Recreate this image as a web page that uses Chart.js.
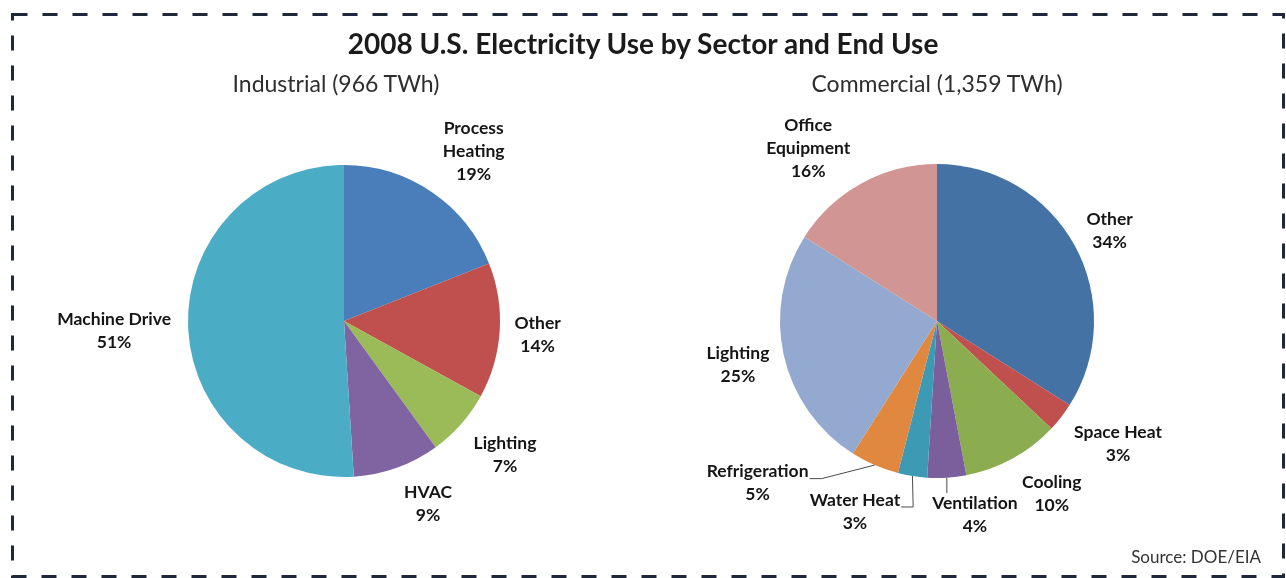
<!DOCTYPE html>
<html>
<head>
<meta charset="utf-8">
<script src="https://cdn.jsdelivr.net/npm/chart.js@4.4.1/dist/chart.umd.min.js"></script>
<style>
  html, body { margin: 0; padding: 0; background: #fff; }
  #wrap { position: relative; width: 1286px; height: 578px; overflow: hidden; font-family: Lato, 'Open Sans', sans-serif; }
  .pie { position: absolute; top: 0; width: 643px; height: 578px; }
  #indBox { left: 0; }
  #comBox { left: 643px; }
  .txt { position: absolute; white-space: nowrap; color: #1b1b1b; }
  #title { left: 0; width: 1286px; top: 26px; text-align: center; font-weight: 700; font-size: 28px; }
  .sub { top: 69px; font-size: 23px; color: #2e2e2e; text-align: center; width: 400px; }
  #subInd { left: 136px; }
  #subCom { left: 737px; }
  #source { right: 25px; top: 546px; font-size: 17px; color: #333; }
  #frame { position: absolute; left: 0; top: 0; pointer-events: none; }
</style>
</head>
<body>
<div id="wrap">
  <div class="pie" id="indBox"><canvas id="industrialChart"></canvas></div>
  <div class="pie" id="comBox"><canvas id="commercialChart"></canvas></div>
  <div class="txt" id="title">2008 U.S. Electricity Use by Sector and End Use</div>
  <div class="txt sub" id="subInd">Industrial (966 TWh)</div>
  <div class="txt sub" id="subCom">Commercial (1,359 TWh)</div>
  <div class="txt" id="source">Source: DOE/EIA</div>
  <svg id="frame" width="1286" height="578">
    <rect x="12.5" y="14.5" width="1271" height="562" fill="none" stroke="#1e2838" stroke-width="3" stroke-dasharray="15 15"/>
  </svg>
</div>
<script>
// Industrial sector, share of electricity by end use (%)
const industrialLabels = ['Process\nHeating', 'Other', 'Lighting', 'HVAC', 'Machine Drive'];
const industrialValues = [19, 14, 7, 9, 51];
const industrialColors = ['#4a7ebb', '#c0504d', '#9bbb59', '#8064a2', '#4bacc6'];

// Commercial sector, share of electricity by end use (%)
const commercialLabels = ['Other', 'Space Heat', 'Cooling', 'Ventilation', 'Water Heat', 'Refrigeration', 'Lighting', 'Office\nEquipment'];
const commercialValues = [34, 3, 10, 4, 3, 5, 25, 16];
const commercialColors = ['#4472a4', '#c0504d', '#8bad4f', '#7b5e9c', '#3d9ab4', '#e0883f', '#93a9cf', '#d19593'];

// label placement tweaks (px) from the default radial spot
const industrialNudge = [[15, -1], [-10, 1], [8, -1], [15, -9], [-26, 3]];
const commercialNudge = [[-7, 9], [19, -3], [16, -7], [25, -11], [-50, -12], [-98, -26], [1, -1], [-30, 7]];
const commercialLeaders = [false, false, false, true, true, true, false, false];

const LABEL_FONT = 'bold 17.5px Lato, "Open Sans", sans-serif';
const LINE_H = 23;

// draws "Name / NN%" next to every slice, with optional leader lines
const sliceLabels = {
  id: 'sliceLabels',
  afterDatasetsDraw(chart, args, opts) {
    const ctx = chart.ctx;
    const meta = chart.getDatasetMeta(0);
    const values = chart.data.datasets[0].data;
    ctx.save();
    ctx.font = LABEL_FONT;
    ctx.fillStyle = '#151515';
    ctx.textAlign = 'center';
    ctx.textBaseline = 'middle';
    meta.data.forEach((arc, i) => {
      const p = arc.getProps(['x', 'y', 'startAngle', 'endAngle', 'outerRadius'], true);
      const mid = (p.startAngle + p.endAngle) / 2;
      const dist = p.outerRadius + 48;
      const nudge = opts.nudge[i] || [0, 0];
      const cx = p.x + Math.cos(mid) * dist + nudge[0];
      const cy = p.y + Math.sin(mid) * dist + nudge[1];
      const lines = chart.data.labels[i].split('\n').concat(values[i] + '%');
      const top = cy - (lines.length - 1) * LINE_H / 2;
      lines.forEach((ln, k) => ctx.fillText(ln, cx, top + k * LINE_H));

      if (opts.leaders && opts.leaders[i]) {
        const ex = p.x + Math.cos(mid) * p.outerRadius;
        const ey = p.y + Math.sin(mid) * p.outerRadius;
        const half = ctx.measureText(lines[0]).width / 2;
        ctx.strokeStyle = '#4a4a4a';
        ctx.lineWidth = 1;
        ctx.beginPath();
        if (ex > cx - half && ex < cx + half) {
          ctx.moveTo(ex, ey);
          ctx.lineTo(ex, top - 10);
        } else {
          const right = cx + half + 1;
          const by = top + 7;
          ctx.moveTo(ex, ey);
          ctx.lineTo(right + 12, by);
          ctx.lineTo(right, by);
        }
        ctx.stroke();
      }
    });
    ctx.restore();
  }
};

function makePie(id, labels, values, colors, padding, nudge, leaders) {
  return new Chart(document.getElementById(id), {
    type: 'pie',
    data: {
      labels: labels,
      datasets: [{
        data: values,
        backgroundColor: colors,
        borderWidth: 0
      }]
    },
    options: {
      responsive: true,
      maintainAspectRatio: false,
      animation: false,
      layout: { padding: padding },
      plugins: {
        legend: { display: false },
        tooltip: { enabled: false },
        sliceLabels: { nudge: nudge, leaders: leaders }
      }
    },
    plugins: [sliceLabels]
  });
}

makePie('industrialChart', industrialLabels, industrialValues, industrialColors,
  { left: 188, right: 143, top: 165, bottom: 101 }, industrialNudge, null);
makePie('commercialChart', commercialLabels, commercialValues, commercialColors,
  { left: 137, right: 192, top: 164, bottom: 100 }, commercialNudge, commercialLeaders);
</script>
</body>
</html>
